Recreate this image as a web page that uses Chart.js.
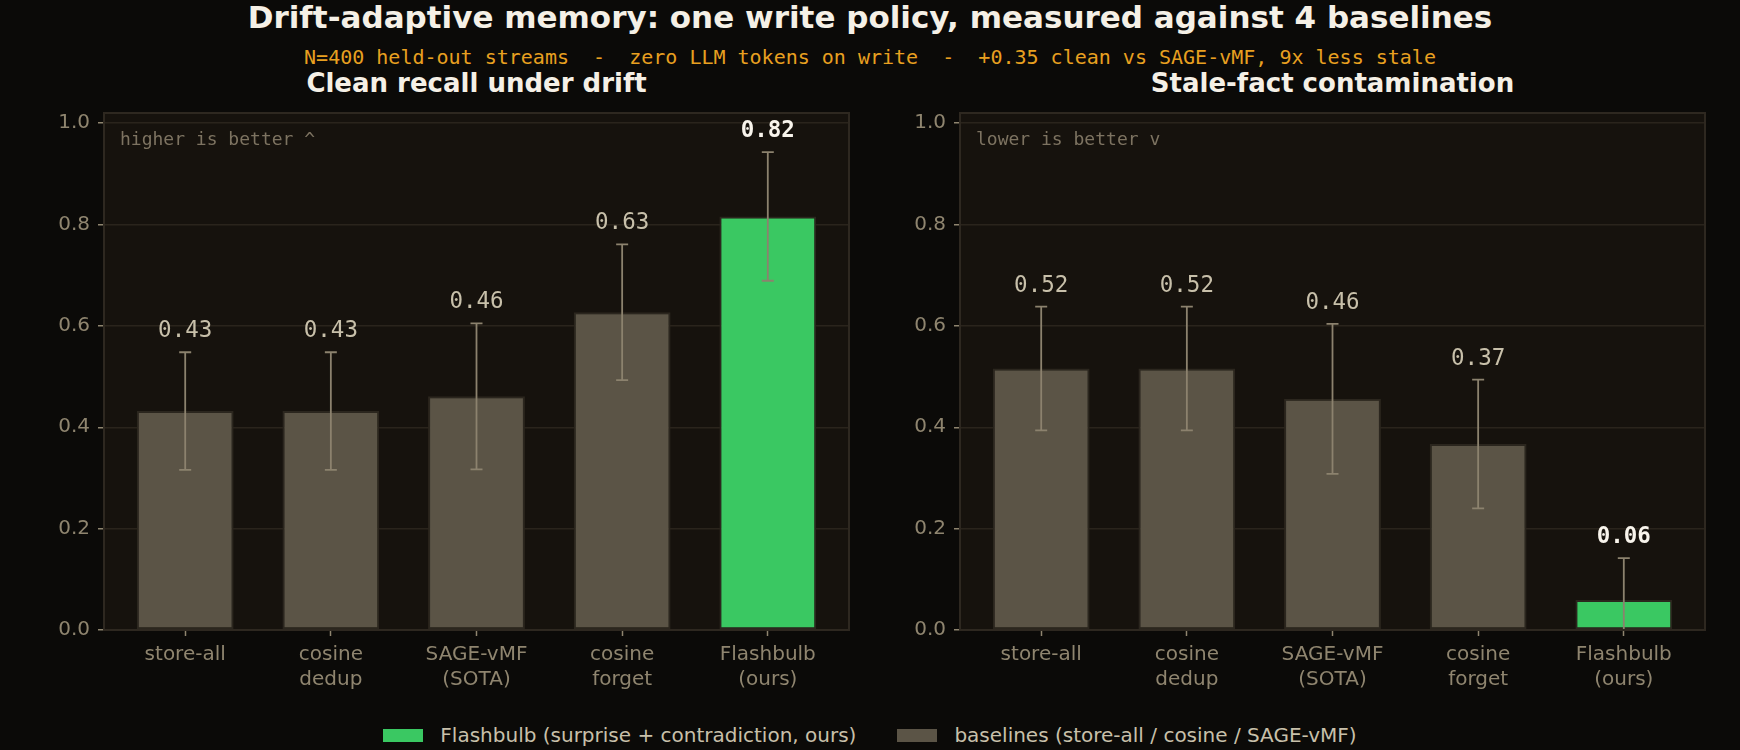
<!DOCTYPE html>
<html>
<head>
<meta charset="utf-8">
<script src="https://cdn.jsdelivr.net/npm/chart.js@4.4.1/dist/chart.umd.min.js"></script>
<style>
  body { margin: 0; width: 1740px; height: 750px; overflow: hidden; position: relative; background: #0b0a08; font-family: "DejaVu Sans", sans-serif; }
  .txt { position: absolute; white-space: pre; line-height: 1; }
  #title { left: 0; width: 1740px; text-align: center; top: 2px; font-size: 31px; font-weight: bold; color: #f5f0e6; }
  #subtitle { left: 0; width: 1740px; text-align: center; top: 47px; font-family: "DejaVu Sans Mono", monospace; font-size: 20px; color: #e8a020; }
  .panel-title { top: 70px; width: 745px; text-align: center; font-size: 26px; font-weight: bold; color: #f5f0e6; }
  #leftTitle { left: 104px; }
  #rightTitle { left: 960px; }
  canvas { position: absolute; top: 93px; }
  #leftChart { left: 0; }
  #rightChart { left: 870px; }
  #legend { position: absolute; left: 0; top: 724px; width: 1740px; display: flex; justify-content: center; align-items: center; font-size: 20px; color: #c8c0aa; line-height: 22px; }
  .item { display: flex; align-items: center; }
  .item + .item { margin-left: 41px; }
  .sw { width: 40px; height: 13px; margin-right: 17px; }
</style>
</head>
<body>
<div id="title" class="txt">Drift-adaptive memory: one write policy, measured against 4 baselines</div>
<div id="subtitle" class="txt">N=400 held-out streams  -  zero LLM tokens on write  -  +0.35 clean vs SAGE-vMF, 9x less stale</div>
<div id="leftTitle" class="txt panel-title">Clean recall under drift</div>
<div id="rightTitle" class="txt panel-title">Stale-fact contamination</div>

<canvas id="leftChart" width="870" height="607"></canvas>
<canvas id="rightChart" width="870" height="607"></canvas>

<div id="legend">
  <div class="item"><div class="sw" style="background:#3ac862"></div>Flashbulb (surprise + contradiction, ours)</div>
  <div class="item"><div class="sw" style="background:#5b5446"></div>baselines (store-all / cosine / SAGE-vMF)</div>
</div>

<script>
/* ================= DATA ================= */

const categories = [
  ["store-all"],
  ["cosine", "dedup"],
  ["SAGE-vMF", "(SOTA)"],
  ["cosine", "forget"],
  ["Flashbulb", "(ours)"]
];

const cleanRecall = [0.432, 0.432, 0.461, 0.627, 0.816];
const cleanErr = [0.116, 0.116, 0.144, 0.134, 0.127];

const staleRate = [0.516, 0.516, 0.456, 0.367, 0.059];
const staleErr = [0.122, 0.122, 0.148, 0.127, 0.083];

const yTicks = [0, 0.2, 0.4, 0.6, 0.8, 1.0];

const OURS = 4;
const BASE_COLOR = "#5b5446";
const OURS_COLOR = "#3ac862";
const TICK_COLOR = "#8f856f";

/* ================= DECORATION ================= */

function panelDeco(note) {
  return {
    id: "panelDeco",
    beforeDraw(chart) {
      const { ctx, chartArea: a } = chart;
      ctx.save();
      ctx.fillStyle = "#16120d";
      ctx.fillRect(a.left, a.top, a.right - a.left, a.bottom - a.top);
      ctx.restore();
    },
    afterDatasetsDraw(chart) {
      const { ctx, chartArea: a, scales } = chart;
      const ds = chart.data.datasets[0];

      // error bars
      ctx.save();
      ctx.beginPath();
      ctx.rect(a.left, a.top, a.right - a.left, a.bottom - a.top);
      ctx.clip();
      ctx.strokeStyle = "#8c826e";
      ctx.lineWidth = 1.8;
      ds.data.forEach((p, i) => {
        const px = scales.x.getPixelForValue(p.x);
        const top = scales.y.getPixelForValue(p.y + ds.errors[i]);
        const bot = scales.y.getPixelForValue(p.y - ds.errors[i]);
        ctx.beginPath();
        ctx.moveTo(px, top);
        ctx.lineTo(px, bot);
        ctx.moveTo(px - 6, top);
        ctx.lineTo(px + 6, top);
        ctx.moveTo(px - 6, bot);
        ctx.lineTo(px + 6, bot);
        ctx.stroke();
      });
      ctx.restore();

      // value labels
      ctx.save();
      ctx.textAlign = "center";
      ctx.textBaseline = "alphabetic";
      ds.data.forEach((p, i) => {
        const px = scales.x.getPixelForValue(p.x);
        const top = scales.y.getPixelForValue(p.y + ds.errors[i]);
        if (i === OURS) {
          ctx.font = "bold 22.5px 'DejaVu Sans Mono'";
          ctx.fillStyle = "#f8f4ec";
        } else {
          ctx.font = "22.5px 'DejaVu Sans Mono'";
          ctx.fillStyle = "#c8c0aa";
        }
        ctx.fillText(p.y.toFixed(2), px, top - 15);
      });
      ctx.restore();
    },
    afterDraw(chart) {
      const { ctx, chartArea: a } = chart;
      ctx.save();
      ctx.strokeStyle = "#2e2820";
      ctx.lineWidth = 2;
      ctx.strokeRect(a.left, a.top, a.right - a.left, a.bottom - a.top);
      ctx.font = "18px 'DejaVu Sans Mono'";
      ctx.fillStyle = "#7d7361";
      ctx.textAlign = "left";
      ctx.fillText(note, a.left + 16, a.top + 32);
      ctx.restore();
    }
  };
}

/* ================= PANELS ================= */

function makePanel(canvasId, values, errs, note, axisWidth, rightPad) {
  new Chart(document.getElementById(canvasId), {
    type: "bar",
    data: {
      datasets: [{
        data: values.map((v, i) => ({ x: i, y: v })),
        errors: errs,
        backgroundColor: values.map((v, i) => i === OURS ? OURS_COLOR : BASE_COLOR),
        borderColor: "#2b261e",
        borderWidth: 2,
        borderSkipped: false,
        barPercentage: 0.665,
        categoryPercentage: 1
      }]
    },
    options: {
      responsive: false,
      animation: false,
      devicePixelRatio: 1,
      layout: { padding: { top: 0, right: rightPad, left: 0, bottom: 0 } },
      plugins: {
        legend: { display: false },
        tooltip: { enabled: false }
      },
      scales: {
        x: {
          type: "linear",
          min: -0.5575,
          max: 4.5575,
          offset: false,
          afterBuildTicks: s => { s.ticks = categories.map((c, i) => ({ value: i })); },
          afterFit: s => { s.height = 70; },
          ticks: {
            callback: (v, i) => categories[i],
            color: TICK_COLOR,
            font: { family: "DejaVu Sans", size: 20, lineHeight: 1.25 },
            padding: 6,
            autoSkip: false,
            maxRotation: 0
          },
          grid: { offset: false, drawOnChartArea: false, drawTicks: true, tickLength: 6, tickColor: TICK_COLOR, tickWidth: 1.5 },
          border: { display: false }
        },
        y: {
          min: 0,
          max: 1.02,
          afterBuildTicks: s => { s.ticks = yTicks.map(v => ({ value: v })); },
          afterFit: s => { s.width = axisWidth; },
          ticks: {
            callback: v => v.toFixed(1),
            color: TICK_COLOR,
            font: { family: "DejaVu Sans", size: 20 },
            padding: 8
          },
          grid: { color: "#2a241c", lineWidth: 1.5, tickLength: 6, tickColor: TICK_COLOR, tickWidth: 1.5 },
          border: { display: false }
        }
      }
    },
    plugins: [panelDeco(note)]
  });
}

makePanel("leftChart", cleanRecall, cleanErr, "higher is better ^", 104, 21);
makePanel("rightChart", staleRate, staleErr, "lower is better v", 90, 35);
</script>
</body>
</html>
